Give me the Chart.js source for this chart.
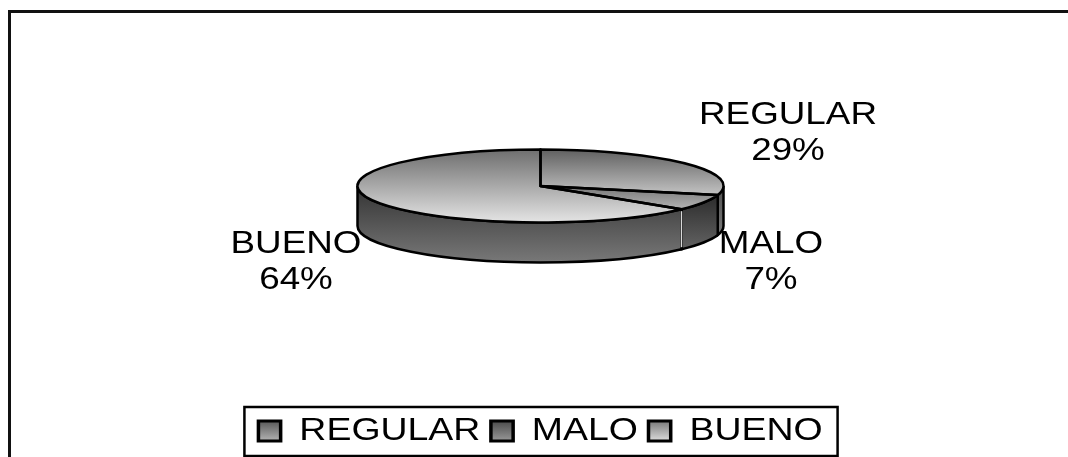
<!DOCTYPE html>
<html>
<head>
<meta charset="utf-8">
<style>
  html, body { margin: 0; background: #fff; }
  canvas { display: block; }
</style>
<script src="https://cdn.jsdelivr.net/npm/chart.js@4"></script>
</head>
<body>
<canvas id="myChart" width="1068" height="457"></canvas>
<script>
var categories = ['REGULAR', 'MALO', 'BUENO'];
var percents = [29, 7, 64];

var FONT = '"Liberation Sans", Arial, sans-serif';
var RADIUS = 183;
var SQUASH = 36.5 / 183;
var DEPTH = 40;
// the picture's text is wider than it is tall
var TEXT_STRETCH = 1.15;
var LEGEND_STRETCH = 1.17;

var topColors = [['#606060', '#ffffff'], ['#171717', '#d6d6d6'], ['#6e6e6e', '#e4e4e4']];
var wallColors = [['#505050', '#909090'], ['#222222', '#707070'], ['#333333', '#787878']];
var swatchColors = [['#505050', '#b4b4b4'], ['#444444', '#989898'], ['#707070', '#dcdcdc']];

// where the data labels sit
var labelSpots = [[788, 115, 151], [771, 244, 280], [296, 244, 280]];

function sliceFill(context) {
  var chart = context.chart;
  var area = chart.chartArea;
  if (!area) return '#888';
  var cy = (area.top + area.bottom) / 2;
  var grad = chart.ctx.createLinearGradient(0, cy - RADIUS, 0, cy + RADIUS);
  var c = topColors[context.dataIndex];
  grad.addColorStop(0, c[0]);
  grad.addColorStop(1, c[1]);
  return grad;
}

function drawWall(ctx, arc, i) {
  var lo = Math.max(arc.startAngle, 0);
  var hi = Math.min(arc.endAngle, Math.PI);
  if (hi <= lo) return;
  var ry = RADIUS * SQUASH;
  var grad = ctx.createLinearGradient(0, arc.y, 0, arc.y + ry + DEPTH);
  grad.addColorStop(0, wallColors[i][0]);
  grad.addColorStop(1, wallColors[i][1]);
  ctx.beginPath();
  ctx.ellipse(arc.x, arc.y, RADIUS, ry, 0, lo, hi);
  ctx.ellipse(arc.x, arc.y + DEPTH, RADIUS, ry, 0, hi, lo, true);
  ctx.closePath();
  ctx.fillStyle = grad;
  ctx.fill();
  ctx.strokeStyle = '#000';
  ctx.lineWidth = 2.5;
  ctx.stroke();
  // light seam on the front edge of the big slice
  if (i === 2) {
    var sx = arc.x + RADIUS * Math.cos(lo);
    var sy = arc.y + ry * Math.sin(lo);
    ctx.strokeStyle = '#d8d8d8';
    ctx.lineWidth = 1.5;
    ctx.beginPath();
    ctx.moveTo(sx, sy + 2);
    ctx.lineTo(sx, sy + DEPTH - 2);
    ctx.stroke();
  }
}

function legendX(chart, x) {
  var mid = (chart.legend.left + chart.legend.right) / 2;
  return mid + (x - mid) * LEGEND_STRETCH;
}

var pie3d = {
  id: 'pie3d',
  beforeDraw: function(chart) {
    var ctx = chart.ctx;
    // outer frame only has top and left edges
    ctx.save();
    ctx.fillStyle = '#111';
    ctx.fillRect(8, 10, 1060, 3);
    ctx.fillRect(8, 10, 3, 447);
    ctx.restore();

    var items = chart.legend.legendItems;
    chart.legend.legendHitBoxes.forEach(function(box, i) {
      var g = ctx.createLinearGradient(0, box.top + 4, 0, box.top + 26);
      g.addColorStop(0, swatchColors[i][0]);
      g.addColorStop(1, swatchColors[i][1]);
      items[i].fillStyle = g;
    });

    // the legend is the only thing drawn before the datasets, stretch it
    var mid = (chart.legend.left + chart.legend.right) / 2;
    ctx.save();
    ctx.translate(mid, 0);
    ctx.scale(LEGEND_STRETCH, 1);
    ctx.translate(-mid, 0);
  },
  beforeDatasetsDraw: function(chart) {
    var ctx = chart.ctx;
    ctx.restore();
    var arcs = chart.getDatasetMeta(0).data;
    ctx.save();
    arcs.forEach(function(arc, i) { drawWall(ctx, arc, i); });
    ctx.translate(arcs[0].x, arcs[0].y);
    ctx.scale(1, SQUASH);
    ctx.translate(-arcs[0].x, -arcs[0].y);
  },
  afterDatasetsDraw: function(chart) {
    var ctx = chart.ctx;
    ctx.restore();
    var arcs = chart.getDatasetMeta(0).data;
    ctx.save();
    ctx.strokeStyle = '#000';
    ctx.lineWidth = 2.5;
    ctx.lineJoin = 'round';
    arcs.forEach(function(arc) {
      ctx.beginPath();
      ctx.moveTo(arc.x, arc.y);
      ctx.ellipse(arc.x, arc.y, RADIUS, RADIUS * SQUASH, 0, arc.startAngle, arc.endAngle);
      ctx.closePath();
      ctx.stroke();
    });
    ctx.restore();
  },
  afterDraw: function(chart) {
    var ctx = chart.ctx;
    var boxes = chart.legend.legendHitBoxes;
    var last = boxes[boxes.length - 1];
    var left = legendX(chart, boxes[0].left) - 14;
    var right = legendX(chart, last.left + last.width) + 15;
    ctx.save();
    ctx.strokeStyle = '#000';
    ctx.lineWidth = 2.5;
    ctx.strokeRect(left, chart.legend.top + 1, right - left, chart.legend.height - 2);

    ctx.fillStyle = '#000';
    ctx.font = '32px ' + FONT;
    ctx.textAlign = 'center';
    ctx.textBaseline = 'middle';
    categories.forEach(function(name, i) {
      var s = labelSpots[i];
      ctx.save();
      ctx.translate(s[0], 0);
      ctx.scale(TEXT_STRETCH, 1);
      ctx.fillText(name, 0, s[1]);
      ctx.fillText(percents[i] + '%', 0, s[2]);
      ctx.restore();
    });
    ctx.restore();
  }
};

var ctx = document.getElementById('myChart').getContext('2d');
new Chart(ctx, {
  type: 'pie',
  plugins: [pie3d],
  data: {
    labels: categories,
    datasets: [{
      data: percents,
      backgroundColor: sliceFill,
      borderWidth: 0
    }]
  },
  options: {
    responsive: false,
    animation: false,
    radius: RADIUS,
    layout: { padding: { left: 13 } },
    plugins: {
      tooltip: { enabled: false },
      // empty title, only keeps the pie up above the legend
      title: {
        display: true,
        text: '',
        position: 'bottom',
        weight: 500,
        font: { size: 1 },
        padding: { top: 33, bottom: 0 }
      },
      legend: {
        position: 'bottom',
        labels: {
          boxWidth: 19,
          boxHeight: 20,
          padding: 9,
          color: '#000',
          font: { family: FONT, size: 32 },
          generateLabels: function() {
            return categories.map(function(name, i) {
              return { text: name, fillStyle: '#888', strokeStyle: '#000', lineWidth: 3, index: i };
            });
          }
        }
      }
    }
  }
});
</script>
</body>
</html>
